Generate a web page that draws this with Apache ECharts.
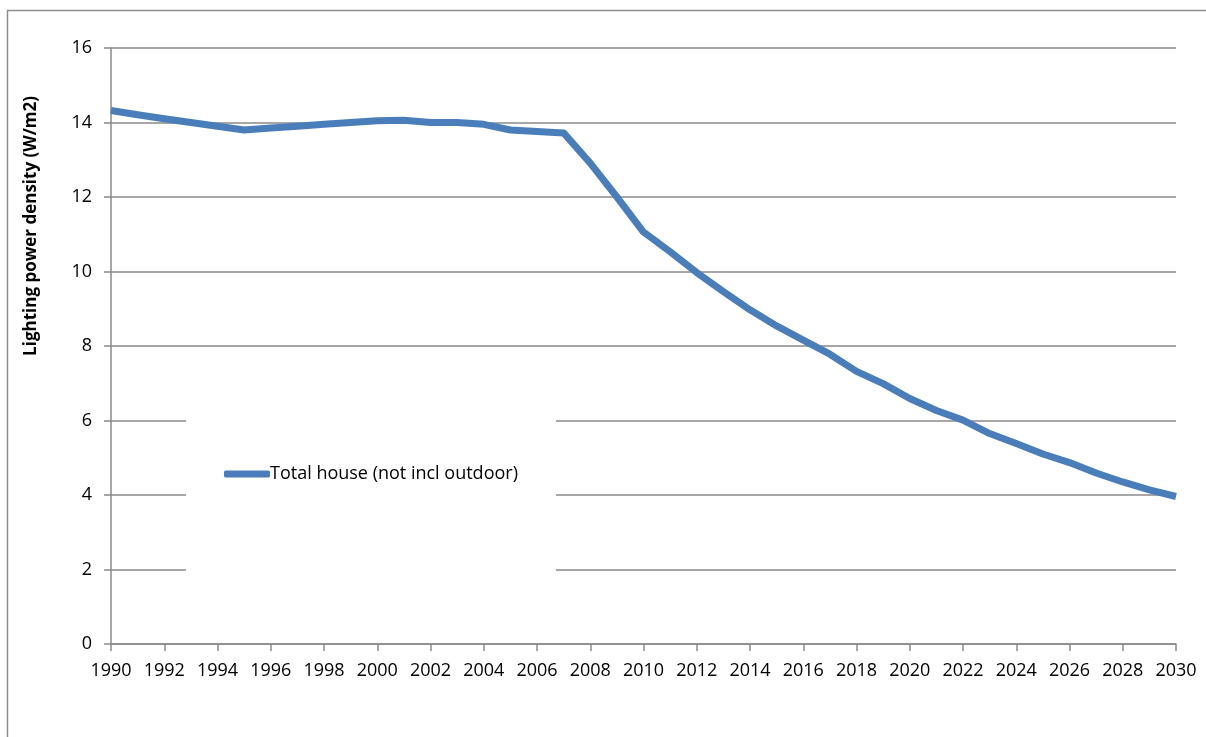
<!DOCTYPE html>
<html>
<head>
<meta charset="utf-8">
<script src="https://cdn.jsdelivr.net/npm/echarts@6/dist/echarts.min.js"></script>
<style>
  html, body { margin: 0; padding: 0; background: #fff; }
  #chart { width: 1206px; height: 737px; }
</style>
</head>
<body>
<div id="chart"></div>
<script>
// Years on the horizontal axis
const years = [];
for (let y = 1990; y <= 2030; y++) years.push(String(y));

// Lighting power density, total house (not incl outdoor), W/m2
const totalHouse = [
  14.32, 14.21, 14.10, 14.00, 13.90, 13.80, 13.85, 13.90, 13.95, 14.00,
  14.05, 14.06, 14.00, 14.00, 13.95, 13.80, 13.76, 13.72, 12.91, 12.00,
  11.06, 10.53, 9.97, 9.46, 8.97, 8.54, 8.16, 7.78, 7.32, 6.99,
  6.59, 6.27, 6.01, 5.65, 5.38, 5.10, 4.87, 4.59, 4.35, 4.14,
  3.96
];

const seriesName = 'Total house (not incl outdoor)';
const yTitle = 'Lighting power density (W/m2)';

const FONT = '"Open Sans", "Noto Sans", sans-serif';
const GRID_GRAY = '#8a8a8a';

const chart = echarts.init(document.getElementById('chart'), null, { renderer: 'canvas' });

chart.setOption({
  animation: false,
  backgroundColor: '#ffffff',
  textStyle: { fontFamily: FONT },
  grid: { left: 111, top: 48, right: 30, bottom: 93, containLabel: false },
  graphic: [
    {
      type: 'rect',
      shape: { x: 7.5, y: 10.5, width: 1400, height: 900 },
      style: { fill: 'none', stroke: '#8e8e8e', lineWidth: 1.5 },
      silent: true,
      z: -1
    },
    {
      type: 'text',
      x: 31,
      y: 226,
      rotation: Math.PI / 2,
      style: {
        text: yTitle,
        font: 'bold 17px ' + FONT,
        fill: '#000',
        align: 'center',
        verticalAlign: 'middle'
      },
      silent: true
    }
  ],
  legend: {
    left: 186,
    top: 395,
    orient: 'vertical',
    backgroundColor: '#ffffff',
    padding: [70, 38, 104, 38],
    itemWidth: 46,
    itemHeight: 7,
    itemGap: 0,
    icon: 'roundRect',
    textStyle: { fontFamily: FONT, fontSize: 18, color: '#000', padding: [0, 0, 0, -5] },
    data: [{ name: seriesName }],
    z: 5
  },
  xAxis: {
    type: 'category',
    data: years,
    boundaryGap: false,
    axisLine: { show: true, lineStyle: { color: GRID_GRAY, width: 1.5 } },
    axisTick: { show: true, interval: 1, length: 7, lineStyle: { color: GRID_GRAY, width: 1.5 } },
    axisLabel: { interval: 1, margin: 18, color: '#000', fontSize: 18, fontFamily: FONT },
    splitLine: { show: false }
  },
  yAxis: {
    type: 'value',
    min: 0,
    max: 16,
    interval: 2,
    axisLine: { show: true, lineStyle: { color: GRID_GRAY, width: 1.5 } },
    axisTick: { show: true, length: 7, lineStyle: { color: GRID_GRAY, width: 1.5 } },
    axisLabel: { margin: 19, color: '#000', fontSize: 18, fontFamily: FONT },
    splitLine: { show: true, lineStyle: { color: GRID_GRAY, width: 1.5 } }
  },
  series: [
    {
      name: seriesName,
      type: 'line',
      data: totalHouse,
      symbol: 'none',
      smooth: false,
      lineStyle: { color: '#4a7ebb', width: 7, cap: 'butt', join: 'round' },
      itemStyle: { color: '#4a7ebb' },
      z: 3
    }
  ]
});
</script>
</body>
</html>
